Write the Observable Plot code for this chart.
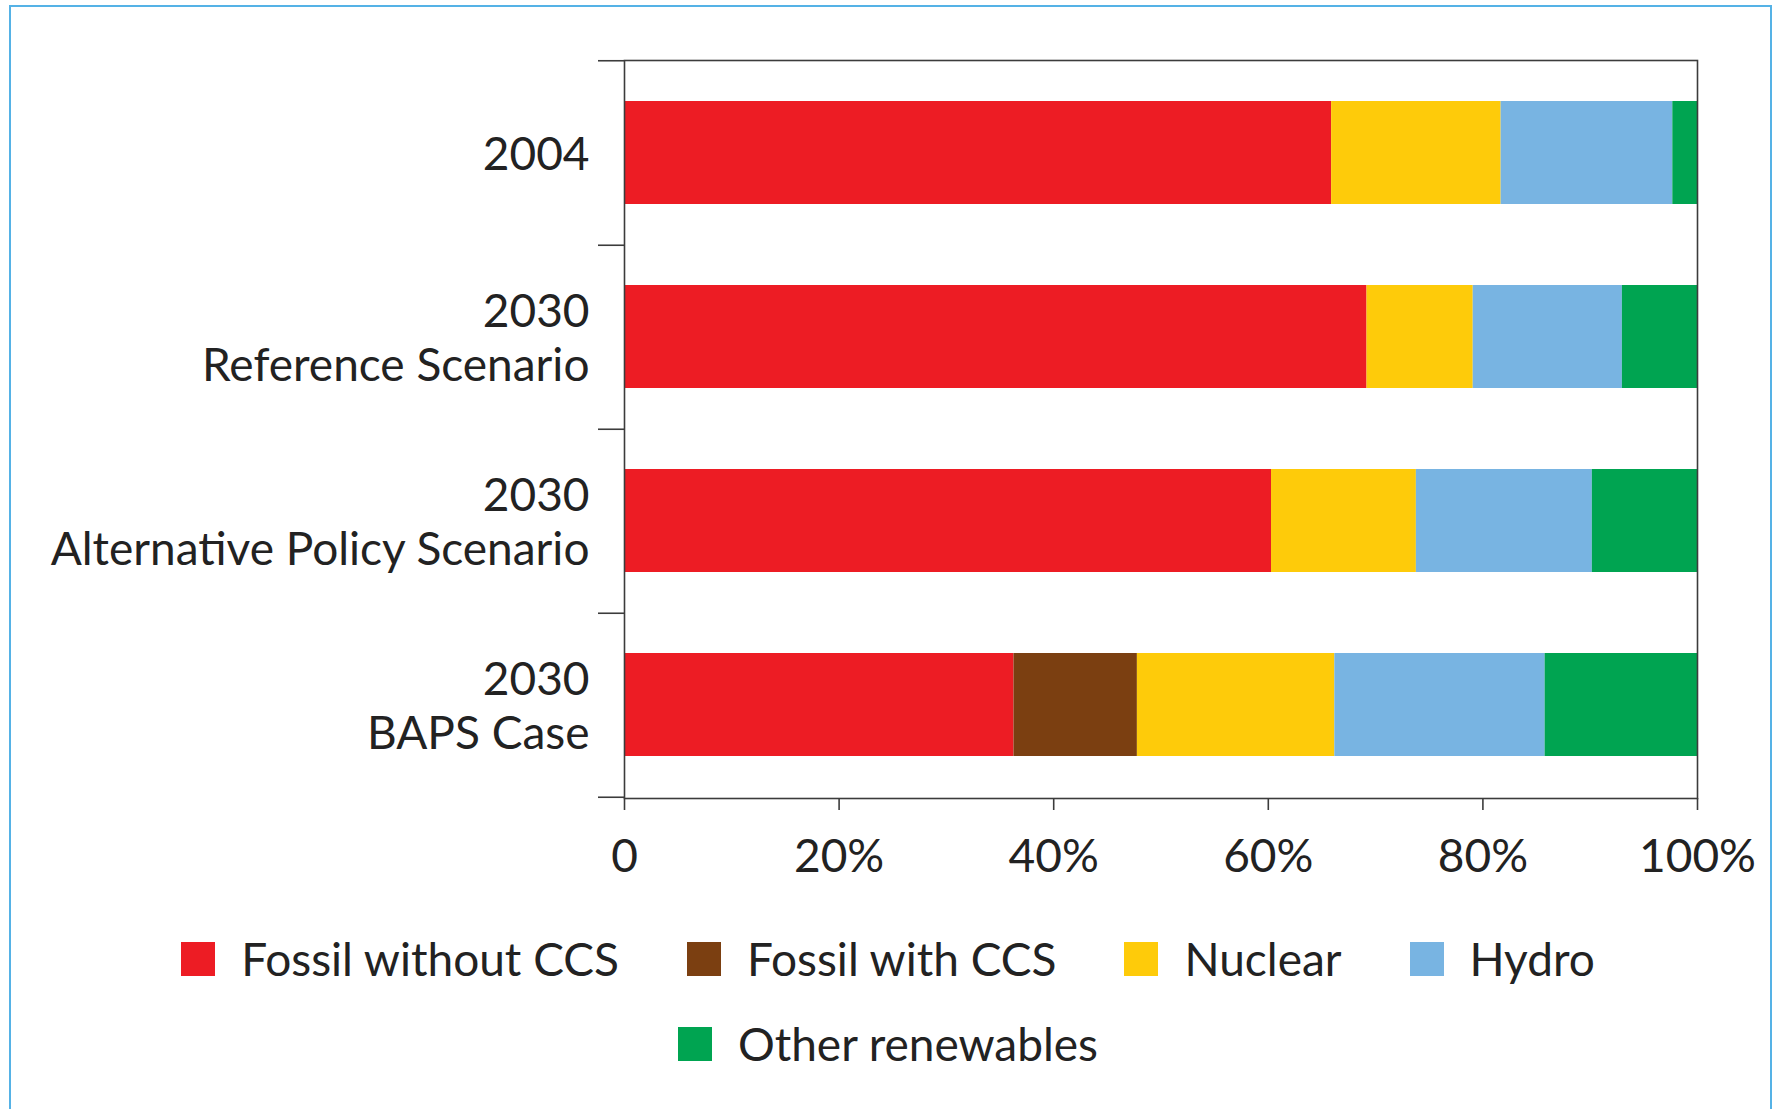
<!DOCTYPE html>
<html>
<head>
<meta charset="utf-8">
<script src="https://cdn.jsdelivr.net/npm/d3@7"></script>
<script src="https://cdn.jsdelivr.net/npm/@observablehq/plot@0.6"></script>
<style>
  html, body { margin: 0; padding: 0; background: #ffffff; }
  body { width: 1776px; height: 1109px; position: relative; overflow: hidden; font-family: Lato, "Noto Sans", sans-serif; }
  #border { position: absolute; left: 9px; top: 5px; width: 1763px; height: 1120px; border: 2px solid #55b2e6; box-sizing: border-box; }
  #chart { position: absolute; left: 0; top: 0; }
  #legend { position: absolute; left: 0; top: 916px; width: 1776px; display: flex; flex-wrap: wrap; justify-content: center; padding: 0 120px; box-sizing: border-box; }
  .item { display: flex; align-items: center; height: 85px; margin: 0 34px; font-size: 46px; color: #222; }
  .sw { width: 34px; height: 34px; margin-right: 26px; }
</style>
</head>
<body>
<div id="border"></div>
<div id="chart"></div>
<div id="legend"></div>
<script>
// ---- data ----
const scenarios = ["2004", "2030 Reference Scenario", "2030 Alternative Policy Scenario", "2030 BAPS Case"];
const scenarioYear = ["2004", "2030", "2030", "2030"];
const scenarioName = ["", "Reference Scenario", "Alternative Policy Scenario", "BAPS Case"];
const sources = ["Fossil without CCS", "Fossil with CCS", "Nuclear", "Hydro", "Other renewables"];
const sourceColors = ["#ed1c24", "#7b3f11", "#fecb0a", "#78b4e2", "#00a451"];
const fossilNoCCS = [65.9, 69.2, 60.3, 36.3];
const fossilCCS   = [0, 0, 0, 11.5];
const nuclear     = [15.8, 9.9, 13.5, 18.4];
const hydro       = [16.0, 13.9, 16.4, 19.6];
const otherRen    = [2.3, 7.0, 9.8, 14.2];
const xTicks = [0, 20, 40, 60, 80, 100];
const xTickLabels = ["0", "20%", "40%", "60%", "80%", "100%"];

const seriesValues = [fossilNoCCS, fossilCCS, nuclear, hydro, otherRen];
const rows = [];
sources.forEach((s, si) => scenarios.forEach((sc, i) => rows.push({scenario: sc, source: s, value: seriesValues[si][i]})));

const labelOf = d => {
  const i = scenarios.indexOf(d);
  return scenarioName[i] ? scenarioYear[i] + "\n" + scenarioName[i] : scenarioYear[i];
};

const W = 1776, H = 900, mT = 60, mB = 102, mL = 624, mR = 79;
const step = (H - mT - mB) / scenarios.length;
const FS = 46;

const chart = Plot.plot({
  width: W, height: H,
  marginTop: mT, marginBottom: mB, marginLeft: mL, marginRight: mR,
  style: {fontFamily: "Lato, 'Noto Sans', sans-serif", fontSize: FS + "px", color: "#222", background: "transparent"},
  x: {domain: [0, 100]},
  y: {domain: scenarios, paddingInner: 0.44, paddingOuter: 0.22, align: 0.5},
  color: {domain: sources, range: sourceColors},
  marks: [
    Plot.barX(rows, Plot.stackX({x: "value", y: "scenario", fill: "source", order: sources})),
    Plot.frame({stroke: "#3c3c3c", strokeWidth: 1.6}),
    Plot.axisX({ticks: xTicks, tickFormat: d => xTickLabels[xTicks.indexOf(d)], tickSize: 12, tickPadding: 29, fontSize: FS, stroke: "#3c3c3c", strokeWidth: 1.6, label: null}),
    Plot.axisY({tickSize: 0, tickPadding: 35, tickFormat: labelOf, fontSize: FS, lineHeight: 1.16, label: null}),
    Plot.axisY({tickSize: 26, tickFormat: () => "", dy: step / 2, stroke: "#3c3c3c", strokeWidth: 1.6, label: null}),
    Plot.axisY({ticks: [scenarios[0]], tickSize: 26, tickFormat: () => "", dy: -step / 2, stroke: "#3c3c3c", strokeWidth: 1.6, label: null})
  ]
});
document.getElementById("chart").appendChild(chart);

const legend = document.getElementById("legend");
sources.forEach((s, i) => {
  const it = document.createElement("div");
  it.className = "item";
  const sw = document.createElement("span");
  sw.className = "sw";
  sw.style.background = sourceColors[i];
  it.appendChild(sw);
  it.appendChild(document.createTextNode(s));
  legend.appendChild(it);
});
</script>
</body>
</html>
